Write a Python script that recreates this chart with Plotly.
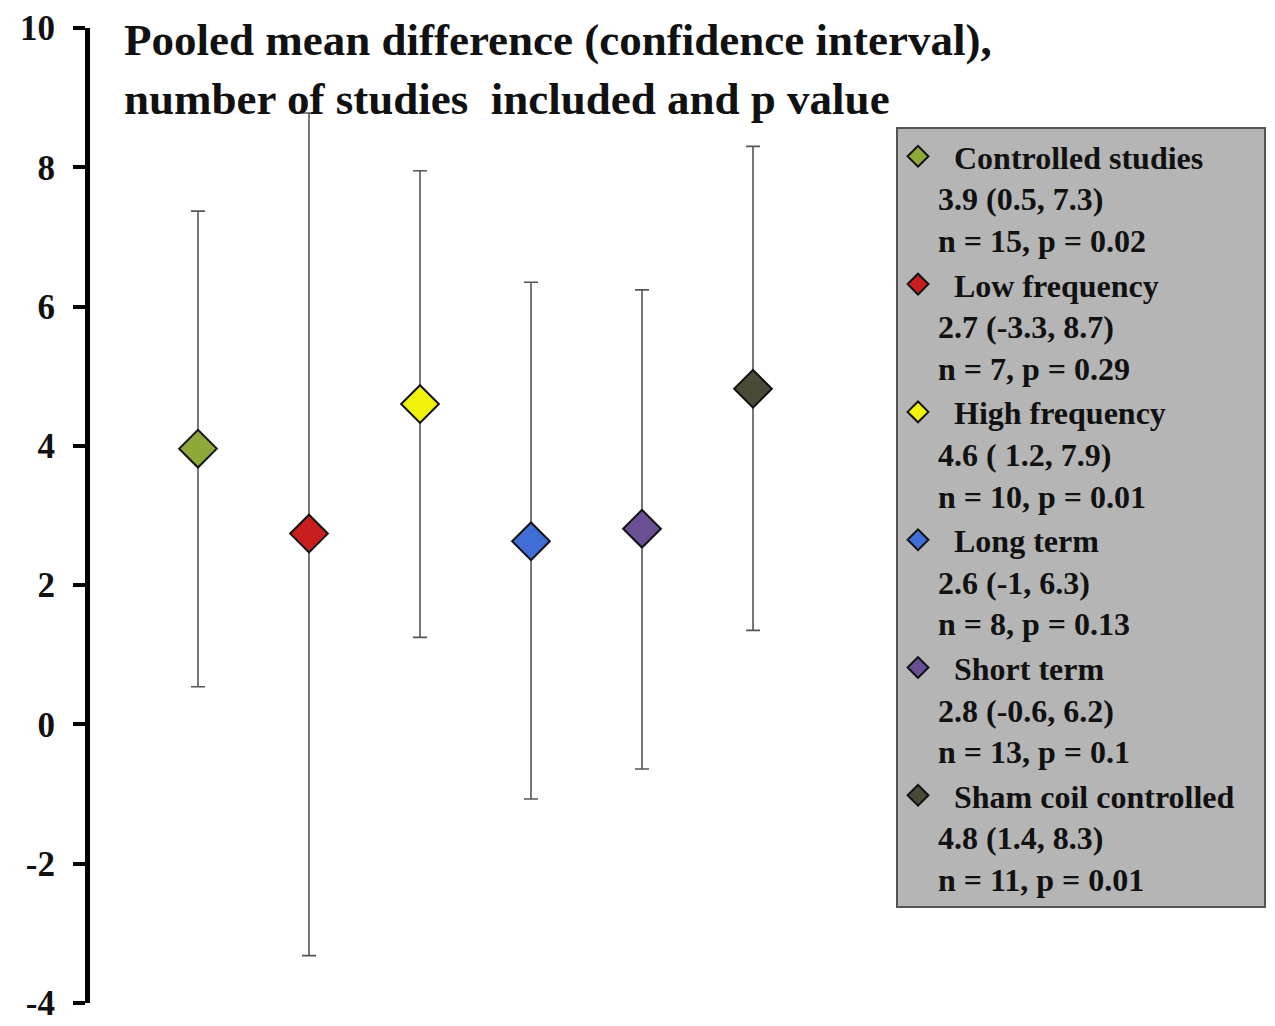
import plotly.graph_objects as go

# ---- data ----
groups = ["Controlled studies", "Low frequency", "High frequency",
          "Long term", "Short term", "Sham coil controlled"]
means = [3.96, 2.74, 4.60, 2.63, 2.81, 4.82]
lower = [0.54, -3.32, 1.25, -1.07, -0.64, 1.35]
upper = [7.37, 8.78, 7.95, 6.35, 6.24, 8.30]
ci_text = ["3.9 (0.5, 7.3)", "2.7 (-3.3, 8.7)", "4.6 ( 1.2, 7.9)",
           "2.6 (-1, 6.3)", "2.8 (-0.6, 6.2)", "4.8 (1.4, 8.3)"]
np_text = ["n = 15, p = 0.02", "n = 7, p = 0.29", "n = 10, p = 0.01",
           "n = 8, p = 0.13", "n = 13, p = 0.1", "n = 11, p = 0.01"]
colors = ["#8ea83a", "#c81e1e", "#f2f20a", "#3f6fd6", "#6a4f94", "#4a4a36"]
yticks = [-4, -2, 0, 2, 4, 6, 8, 10]

FONT = "Liberation Serif"
L, T, B = 90, 28, 23
PW, PH = 1275 - L, 1026 - T - B

fig = go.Figure()
for i, g in enumerate(groups):
    first = "\u00a0\u00a0" + g + ("\u00a0\u00a0\u00a0" if i == len(groups) - 1 else "")
    fig.add_trace(go.Scatter(
        x=[i], y=[means[i]],
        mode="markers",
        name=first + "<br>" + ci_text[i] + "<br>" + np_text[i],
        legendgroup="g%d" % i,
        marker=dict(symbol="diamond", size=29, color=colors[i],
                    line=dict(color="#111111", width=2)),
        error_y=dict(type="data", symmetric=False,
                     array=[upper[i] - means[i]],
                     arrayminus=[means[i] - lower[i]],
                     color="#555555", thickness=1.6, width=7),
    ))

fig.update_layout(
    width=1275, height=1026,
    margin=dict(l=L, r=0, t=T, b=B, autoexpand=False),
    paper_bgcolor="white", plot_bgcolor="white",
    font=dict(family=FONT, color="#111111"),
    showlegend=True,
    legend=dict(
        x=(896 - L) / PW, y=(PH + T - 127) / PH,
        xanchor="left", yanchor="top",
        bgcolor="#b5b5b5", bordercolor="#555555", borderwidth=2,
        font=dict(family=FONT, size=32, color="#111111", weight="bold"),
        valign="top", tracegroupgap=0, itemsizing="trace",
    ),
    xaxis=dict(range=[-(198 - L) / 111, (1275 - 198) / 111], visible=False,
               showgrid=False, zeroline=False, automargin=False),
    yaxis=dict(range=[-4, 10], tickvals=yticks, ticktext=[str(v) for v in yticks],
               showgrid=False, zeroline=False, automargin=False,
               showline=True, linecolor="black", linewidth=5,
               ticks="outside", ticklen=12, tickwidth=4, tickcolor="black",
               ticklabelstandoff=11, ticklabeloverflow="allow",
               tickfont=dict(family=FONT, size=35, color="#111111", weight="bold")),
)

fig.add_annotation(
    xref="paper", yref="paper", x=(122 - L) / PW, y=(PH + T - 13) / PH,
    xanchor="left", yanchor="top", align="left", showarrow=False,
    text="Pooled mean difference (confidence interval),<br>number of studies  included and p value",
    font=dict(family=FONT, size=45, color="#111111", weight="bold"),
)

fig.write_html("out.html", config={"displayModeBar": False},
               post_script="document.body.style.margin='0';")
